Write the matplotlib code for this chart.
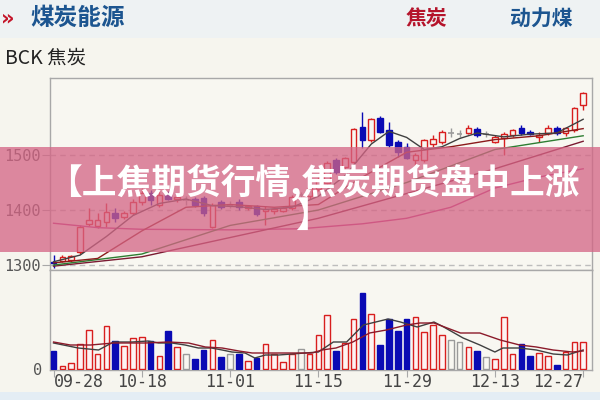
import matplotlib
matplotlib.use('Agg')
import matplotlib.pyplot as plt
from matplotlib.patches import Rectangle
from matplotlib.transforms import blended_transform_factory

plt.rcParams['font.family'] = ['Noto Sans CJK SC', 'DejaVu Sans']

# K线数据 (开, 高, 低, 收)
opens = [1306, 1308, 1309, 1324, 1374, 1371, 1378, 1394, 1387, 1395,
         1414, 1431, 1410, 1430, 1420, 1418, 1420, 1421, 1370, 1414,
         1410, 1414, 1404, 1407, 1398, 1398, 1399, 1404, 1428, 1425,
         1438, 1450, 1491, 1478, 1487, 1551, 1527, 1567, 1545, 1524,
         1515, 1491, 1491, 1520, 1524, 1540, 1538, 1540, 1547, 1538,
         1524, 1531, 1536, 1550, 1541, 1532, 1540, 1549, 1540, 1545,
         1591]
highs = [1318, 1318, 1318, 1372, 1403, 1394, 1412, 1404, 1399, 1420,
         1440, 1436, 1436, 1434, 1430, 1425, 1424, 1425, 1412, 1418,
         1416, 1420, 1410, 1410, 1407, 1404, 1406, 1428, 1433, 1444,
         1460, 1490, 1494, 1496, 1550, 1578, 1567, 1571, 1560, 1527,
         1522, 1504, 1530, 1536, 1545, 1550, 1545, 1555, 1551, 1543,
         1536, 1541, 1548, 1554, 1545, 1541, 1554, 1552, 1551, 1587,
         1615]
lows = [1295, 1305, 1306, 1320, 1371, 1368, 1370, 1379, 1383, 1391,
        1410, 1410, 1405, 1418, 1415, 1410, 1405, 1390, 1367, 1402,
        1403, 1400, 1400, 1389, 1373, 1392, 1396, 1400, 1422, 1420,
        1434, 1447, 1466, 1475, 1484, 1513, 1524, 1540, 1514, 1496,
        1493, 1478, 1487, 1515, 1520, 1533, 1532, 1538, 1533, 1533,
        1521, 1500, 1533, 1536, 1536, 1523, 1536, 1536, 1535, 1541,
        1582]
closes = [1304, 1314, 1316, 1370, 1382, 1381, 1396, 1386, 1395, 1414,
          1431, 1418, 1427, 1420, 1424, 1418, 1410, 1394, 1409, 1406,
          1410, 1405, 1408, 1393, 1402, 1402, 1403, 1424, 1428, 1440,
          1455, 1485, 1469, 1494, 1547, 1527, 1565, 1542, 1518, 1505,
          1495, 1500, 1527, 1530, 1542, 1540, 1538, 1550, 1536, 1538,
          1532, 1538, 1545, 1540, 1538, 1536, 1549, 1540, 1549, 1585,
          1613]
volumes = [18, 3, 6, 25, 39, 15, 43, 28, 23, 31,
           32, 28, 13, 38, 22, 15, 10, 19, 29, 12,
           15, 15, 8, 11, 25, 15, 7, 15, 20, 15,
           34, 54, 18, 26, 50, 76, 55, 24, 50, 38,
           50, 52, 37, 44, 34, 29, 27, 22, 18, 12,
           10, 52, 15, 25, 13, 16, 13, 4, 17, 27,
           27]

# 均线 (读图所得的折点: 序号, 数值)
ma5_pts = [(0, 1306), (3, 1318), (6, 1352), (9, 1390), (12, 1412), (15, 1420),
           (18, 1408), (21, 1406), (24, 1401), (27, 1405), (30, 1425), (33, 1462),
           (36, 1520), (38, 1543), (40, 1532), (42, 1510), (44, 1515), (46, 1530),
           (48, 1540), (51, 1533), (54, 1538), (57, 1540), (60, 1565)]
ma10_pts = [(0, 1304), (5, 1312), (10, 1362), (15, 1405), (20, 1410), (25, 1405),
            (30, 1410), (35, 1460), (40, 1505), (45, 1515), (50, 1528), (55, 1535),
            (60, 1548)]
ma20_pts = [(0, 1300), (10, 1320), (20, 1372), (30, 1400), (40, 1450), (50, 1510),
            (60, 1535)]
ma30_pts = [(0, 1298), (10, 1315), (20, 1350), (30, 1385), (40, 1430), (50, 1475),
            (60, 1525)]
ma60_pts = [(0, 1376), (5, 1368), (10, 1365), (20, 1364), (28, 1366), (35, 1375),
            (40, 1385), (45, 1405), (50, 1440), (55, 1460), (60, 1475)]

vma5_pts = [(0, 26), (2.8, 21), (5.1, 19), (6.8, 27), (8.9, 27), (10.7, 28), (11.9, 26),
            (13.4, 26), (14.9, 24), (16.4, 21), (17.9, 21), (19.1, 19), (20.2, 17),
            (21.7, 16), (22.8, 11), (24, 14), (25.5, 14), (27, 15), (28.5, 16), (30, 17),
            (31.7, 27), (33.2, 27), (35.1, 44), (37.9, 50), (39.3, 47), (41.2, 42),
            (43.1, 47), (44.2, 42), (46.4, 31), (48.3, 24), (50, 17), (50.9, 21),
            (52.8, 21), (54.7, 19), (56.6, 15), (58.2, 14), (60, 19)]
vma10_pts = [(0, 27), (1.9, 24), (4.2, 24), (6.8, 26), (8.9, 26), (10.4, 26), (13, 27),
             (15.3, 26), (17.2, 22), (19.1, 21), (21, 18), (22.5, 16), (24.8, 16),
             (27, 16), (29.3, 16), (30.4, 19), (32, 21), (33.9, 27), (35.8, 36),
             (37.7, 39), (40, 44), (41.5, 46), (43.1, 46), (44.6, 41), (46.1, 36),
             (48.3, 36), (50.6, 29), (52.8, 24), (54.7, 22), (56.6, 19), (58.8, 17),
             (60, 18)]

tick_idx = [0, 10, 20, 30, 40, 50, 60]
tick_labels = ['09-28', '10-18', '11-01', '11-15', '11-29', '12-13', '12-27']
price_ticks = [1300, 1400, 1500]
title = '【上焦期货行情,焦炭期货盘中上涨\n】'

RED = '#d81e1e'
BLUE = '#0a0ab4'
GRAY = '#9a9a9a'
PANEL = '#f8f7f1'


def bar_color(o, c):
    if c > o:
        return RED
    if c < o:
        return BLUE
    return GRAY


fig = plt.figure(figsize=(6, 4), dpi=100)
fig.patch.set_facecolor('#f6f5ee')

# 页眉和底部色带
fig.add_artist(Rectangle((0, 0.905), 1, 0.095, transform=fig.transFigure,
                         facecolor='#eef2f3', edgecolor='none', zorder=-5))
fig.add_artist(Rectangle((0, 0), 1, 0.02, transform=fig.transFigure,
                         facecolor='#e4edf4', edgecolor='none', zorder=-5))
fig.text(1 / 600, 1 - 18 / 400, '»', color='#c4162a', fontsize=15, fontweight='bold',
         va='center', ha='left', family='DejaVu Sans')
fig.text(30 / 600, 1 - 18 / 400, '煤炭能源', color='#1c5590', fontsize=17,
         fontweight='bold', va='center', ha='left')
fig.text(406 / 600, 1 - 19 / 400, '焦炭', color='#b5142b', fontsize=15,
         fontweight='bold', va='center', ha='left')
fig.text(573 / 600, 1 - 19 / 400, '动力煤', color='#1c5590', fontsize=15,
         fontweight='bold', va='center', ha='right')
fig.text(5 / 600, 1 - 58 / 400, 'BCK 焦炭', color='#222222', fontsize=14,
         va='center', ha='left')

ax_p = fig.add_axes([50 / 600, 130 / 400, 542 / 600, 192 / 400])
ax_v = fig.add_axes([50 / 600, 30 / 400, 542 / 600, 100 / 400])

n = len(closes)
for ax in (ax_p, ax_v):
    ax.set_facecolor(PANEL)
    ax.set_xlim(-0.4, 61.0)
    for s in ax.spines.values():
        s.set_color('#a8a8a8')
        s.set_linewidth(1)

# 价格区
ax_p.set_ylim(1291, 1640)
for p in price_ticks:
    ax_p.axhline(p, color='#bdbdbd', linewidth=1, linestyle=(0, (4, 3)), zorder=0)
w = 0.64
for i in range(n):
    o, h, l, c = opens[i], highs[i], lows[i], closes[i]
    col = bar_color(o, c)
    lo, hi = min(o, c), max(o, c)
    ax_p.vlines(i, l, lo, color=col, linewidth=1, zorder=3)
    ax_p.vlines(i, hi, h, color=col, linewidth=1, zorder=3)
    if hi - lo < 1.5:
        ax_p.hlines(c, i - w / 2, i + w / 2, color=col, linewidth=1.2, zorder=3)
    else:
        face = BLUE if col == BLUE else PANEL
        ax_p.add_patch(Rectangle((i - w / 2, lo), w, hi - lo, facecolor=face,
                                 edgecolor=col, linewidth=1, zorder=3))

for pts, col in [(ma60_pts, '#c0307f'), (ma30_pts, '#7a1a32'), (ma20_pts, '#2e7d32'),
                 (ma10_pts, '#8b1a1a'), (ma5_pts, '#404040')]:
    ax_p.plot([q[0] for q in pts], [q[1] for q in pts], color=col, linewidth=1, zorder=4)

ax_p.set_yticks(price_ticks)
ax_p.set_yticklabels([str(p) for p in price_ticks], family='DejaVu Sans Mono',
                     fontsize=11, color='#555555')
ax_p.tick_params(axis='y', length=6, color='#a8a8a8', pad=1)
ax_p.set_xticks([])

# 成交量区
ax_v.set_ylim(-1, 99)
for i in range(n):
    col = bar_color(opens[i], closes[i])
    face = BLUE if col == BLUE else ('#fdf3f3' if col == RED else PANEL)
    ax_v.add_patch(Rectangle((i - w / 2, 0), w, volumes[i], facecolor=face,
                             edgecolor=col, linewidth=1, zorder=3))
ax_v.plot([q[0] for q in vma5_pts], [q[1] for q in vma5_pts], color='#404040',
          linewidth=1, zorder=4)
ax_v.plot([q[0] for q in vma10_pts], [q[1] for q in vma10_pts], color='#8b1a2a',
          linewidth=1, zorder=4)
ax_v.set_yticks([0])
ax_v.set_yticklabels(['0'], family='DejaVu Sans Mono', fontsize=11, color='#555555')
ax_v.tick_params(axis='y', length=0, pad=6)
ax_v.set_xticks(tick_idx)
ax_v.set_xticklabels([])
ax_v.tick_params(axis='x', length=5, color='#a8a8a8', direction='out')
tr = blended_transform_factory(ax_v.transData, fig.transFigure)
for k, (idx, lab) in enumerate(zip(tick_idx, tick_labels)):
    ha = 'left' if k == 0 else ('right' if k == len(tick_idx) - 1 else 'center')
    ax_v.text(idx, 1 - 382 / 400, lab, transform=tr, ha=ha, va='center',
              family='DejaVu Sans Mono', fontsize=12, color='#444444')

# 粉色标题横幅
fig.add_artist(Rectangle((0, (400 - 252) / 400), 1, 105 / 400, transform=fig.transFigure,
                         facecolor='#d46585', alpha=0.76, edgecolor='none', zorder=20))
fig.text(313 / 600, 1 - 199 / 400, title, color='white', fontsize=25,
         fontweight='heavy', ha='center', va='center', multialignment='center',
         linespacing=0.92, zorder=21)

fig.savefig('out.png', dpi=100, facecolor=fig.get_facecolor())
